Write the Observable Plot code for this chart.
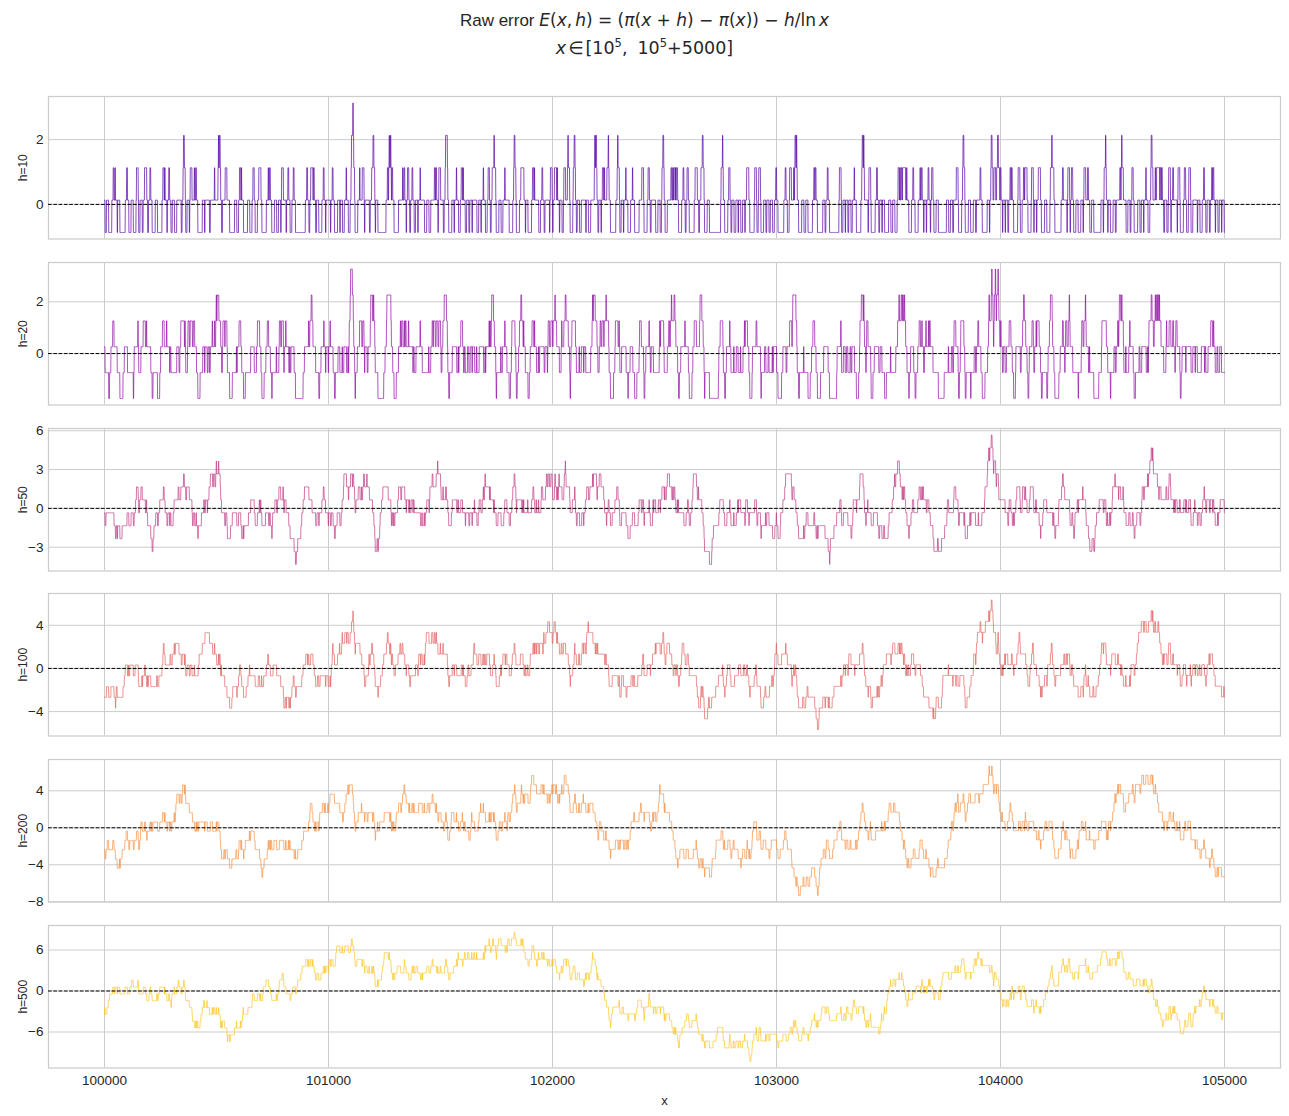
<!DOCTYPE html>
<html>
<head>
<meta charset="utf-8">
<script src="https://cdn.jsdelivr.net/npm/d3@7"></script>
<script src="https://cdn.jsdelivr.net/npm/@observablehq/plot@0.6"></script>
<style>
  html, body { margin: 0; padding: 0; background: #fff; }
  #root { position: relative; width: 1289px; height: 1116px; overflow: hidden; font-family: "Liberation Sans", Arial, sans-serif; color: #262626; }
  .title { position: absolute; left: 0; width: 1289px; text-align: center; font-size: 17px; line-height: 20px; white-space: nowrap; }
  .m { font-family: "DejaVu Sans", sans-serif; }
  .m i { font-style: italic; }
  .panel { position: absolute; left: 0; }
</style>
</head>
<body>
<div id="root">
  <div class="title" style="top:10px">Raw error <span class="m"><i>E</i>(<i>x</i>,<span style="margin-left:3px"></span><i>h</i>) = (<i>π</i>(<i>x</i> + <i>h</i>) − <i>π</i>(<i>x</i>)) − <i>h</i>/ln<span style="margin-left:3px"></span><i>x</i></span></div>
  <div class="title" style="top:33px"><span class="m" style="font-size:17.5px"><i>x</i><span style="margin-left:2px"></span>∈<span style="margin-left:2px"></span>[10<sup style="font-size:11.5px">5</sup>,<span style="margin-left:10px"></span>10<sup style="font-size:11.5px">5</sup>+5000]</span></div>
</div>
<script>
// ---- data definition (values are defined by the chart's own title) ----
const hValues = [10, 20, 50, 100, 200, 500];
const panelLabels = ["h=10", "h=20", "h=50", "h=100", "h=200", "h=500"];
const xStart = 100000;
const xSpan = 5000;
const xTicks = [100000, 101000, 102000, 103000, 104000, 105000];
const yTicksByPanel = [[0, 2], [0, 2], [-3, 0, 3, 6], [-4, 0, 4], [-8, -4, 0, 4], [-6, 0, 6]];
const colorPositions = [0.15, 0.3, 0.45, 0.6, 0.74, 0.88];

// prime counting via sieve
const maxN = xStart + xSpan + 600;
const composite = new Uint8Array(maxN + 1);
composite[0] = composite[1] = 1;
for (let i = 2; i * i <= maxN; i++) if (!composite[i]) for (let j = i * i; j <= maxN; j += i) composite[j] = 1;
const piCount = new Int32Array(maxN + 1);
for (let i = 1; i <= maxN; i++) piCount[i] = piCount[i - 1] + (composite[i] ? 0 : 1);

const root = document.getElementById("root");
const frameTop0 = 96, panelStep = 165.8, frameH = 142.5;
const mTop = 10;

hValues.forEach((h, i) => {
  const series = [];
  for (let x = xStart; x <= xStart + xSpan; x++) {
    series.push({x, e: (piCount[x + h] - piCount[x]) - h / Math.log(x)});
  }
  const [lo, hi] = d3.extent(series, d => d.e);
  const pad = (hi - lo) * 0.05;
  const yDomain = [lo - pad, hi + pad];
  const yTicks = yTicksByPanel[i].filter(t => t >= yDomain[0] - 0.05 && t <= yDomain[1] + 0.05);
  const last = i === hValues.length - 1;
  const mBottom = last ? 48 : 10;
  const color = d3.interpolatePlasma(colorPositions[i]);
  const marks = [
    Plot.gridX(xTicks, {stroke: "#cccccc", strokeOpacity: 1, strokeWidth: 1}),
    Plot.gridY(yTicks.filter(t => t >= yDomain[0] && t <= yDomain[1]), {stroke: "#cccccc", strokeOpacity: 1, strokeWidth: 1}),
    Plot.frame({stroke: "#cccccc", strokeWidth: 1.25}),
    Plot.line(series, {x: "x", y: "e", stroke: color, strokeWidth: 0.8, strokeOpacity: 0.88}),
    Plot.ruleY([0], {stroke: "black", strokeWidth: 1, strokeDasharray: "3.7,1.6"}),
    Plot.axisY(yTicks, {tickSize: 0, tickPadding: 5, tickFormat: d3.format("d"), label: null, fontSize: 13.5}),
    Plot.axisY([], {label: panelLabels[i], labelAnchor: "center", labelArrow: "none", labelOffset: 30, fontSize: 12}),
  ];
  if (last) {
    marks.push(Plot.axisX(xTicks, {tickSize: 0, tickPadding: 7, tickFormat: d => String(d), label: null, fontSize: 13.5}));
    marks.push(Plot.axisX([], {label: "x", labelAnchor: "center", labelArrow: "none", labelOffset: 37, fontSize: 13}));
  } else {
    marks.push(Plot.axisX([], {label: null}));
  }
  const chart = Plot.plot({
    width: 1289,
    height: frameH + mTop + mBottom,
    marginLeft: 48,
    marginRight: 9,
    marginTop: mTop,
    marginBottom: mBottom,
    style: {fontFamily: "'Liberation Sans', Arial, sans-serif", fontSize: "13.5px", color: "#262626", background: "transparent", overflow: "visible"},
    x: {domain: [xStart - xSpan * 0.05, xStart + xSpan * 1.05]},
    y: {domain: yDomain},
    marks
  });
  chart.classList.add("panel");
  chart.style.top = (frameTop0 + i * panelStep - mTop) + "px";
  root.appendChild(chart);
});
</script>
</body>
</html>
